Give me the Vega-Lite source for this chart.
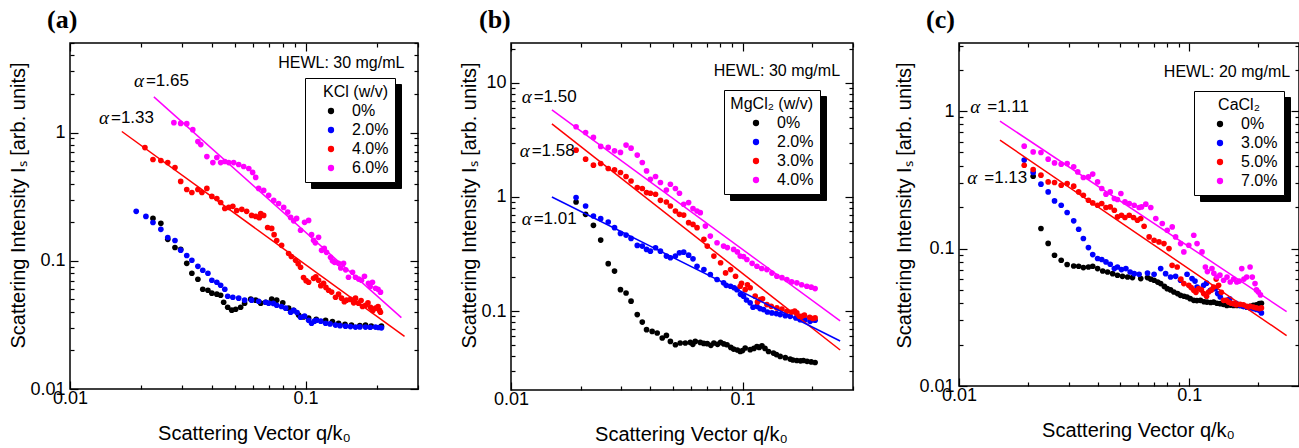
{
  "$schema": "https://vega.github.io/schema/vega-lite/v6.json",
  "background": "white",
  "padding": {"left": 8, "top": 6, "right": 0, "bottom": 0},
  "spacing": 39,
  "datasets": {
    "pts": [
      {"p":"a","s":"0%","q":0.0225,"I":0.214},{"p":"a","s":"0%","q":0.0243,"I":0.196},{"p":"a","s":"0%","q":0.026,"I":0.147},{"p":"a","s":"0%","q":0.0279,"I":0.127},{"p":"a","s":"0%","q":0.0295,"I":0.123},{"p":"a","s":"0%","q":0.0313,"I":0.0956},{"p":"a","s":"0%","q":0.0329,"I":0.0799},{"p":"a","s":"0%","q":0.0349,"I":0.0718},{"p":"a","s":"0%","q":0.0366,"I":0.06},{"p":"a","s":"0%","q":0.0385,"I":0.0589},{"p":"a","s":"0%","q":0.04,"I":0.0559},{"p":"a","s":"0%","q":0.042,"I":0.0549},{"p":"a","s":"0%","q":0.0436,"I":0.0539},{"p":"a","s":"0%","q":0.0449,"I":0.0475},{"p":"a","s":"0%","q":0.0467,"I":0.0434},{"p":"a","s":"0%","q":0.0486,"I":0.0412},{"p":"a","s":"0%","q":0.0505,"I":0.0419},{"p":"a","s":"0%","q":0.053,"I":0.0434},{"p":"a","s":"0%","q":0.0551,"I":0.0467},{"p":"a","s":"0%","q":0.0585,"I":0.0502},{"p":"a","s":"0%","q":0.0614,"I":0.0493},{"p":"a","s":"0%","q":0.0645,"I":0.0467},{"p":"a","s":"0%","q":0.0677,"I":0.0475},{"p":"a","s":"0%","q":0.0718,"I":0.0502},{"p":"a","s":"0%","q":0.0754,"I":0.0493},{"p":"a","s":"0%","q":0.08,"I":0.047},{"p":"a","s":"0%","q":0.0847,"I":0.0427},{"p":"a","s":"0%","q":0.089,"I":0.041},{"p":"a","s":"0%","q":0.0934,"I":0.0377},{"p":"a","s":"0%","q":0.098,"I":0.0365},{"p":"a","s":"0%","q":0.103,"I":0.0357},{"p":"a","s":"0%","q":0.111,"I":0.035},{"p":"a","s":"0%","q":0.1216,"I":0.0344},{"p":"a","s":"0%","q":0.13,"I":0.0335},{"p":"a","s":"0%","q":0.138,"I":0.0326},{"p":"a","s":"0%","q":0.147,"I":0.032},{"p":"a","s":"0%","q":0.1566,"I":0.0315},{"p":"a","s":"0%","q":0.17,"I":0.0312},{"p":"a","s":"0%","q":0.1796,"I":0.0315},{"p":"a","s":"0%","q":0.19,"I":0.031},{"p":"a","s":"0%","q":0.2099,"I":0.0309},
      {"p":"a","s":"2.0%","q":0.0191,"I":0.243},{"p":"a","s":"2.0%","q":0.021,"I":0.222},{"p":"a","s":"2.0%","q":0.0225,"I":0.199},{"p":"a","s":"2.0%","q":0.0243,"I":0.176},{"p":"a","s":"2.0%","q":0.026,"I":0.152},{"p":"a","s":"2.0%","q":0.0279,"I":0.144},{"p":"a","s":"2.0%","q":0.0295,"I":0.121},{"p":"a","s":"2.0%","q":0.0313,"I":0.11},{"p":"a","s":"2.0%","q":0.0329,"I":0.101},{"p":"a","s":"2.0%","q":0.0349,"I":0.0906},{"p":"a","s":"2.0%","q":0.0366,"I":0.0844},{"p":"a","s":"2.0%","q":0.0385,"I":0.0799},{"p":"a","s":"2.0%","q":0.04,"I":0.0705},{"p":"a","s":"2.0%","q":0.042,"I":0.068},{"p":"a","s":"2.0%","q":0.0436,"I":0.0645},{"p":"a","s":"2.0%","q":0.0454,"I":0.06},{"p":"a","s":"2.0%","q":0.0467,"I":0.0529},{"p":"a","s":"2.0%","q":0.0491,"I":0.052},{"p":"a","s":"2.0%","q":0.052,"I":0.0511},{"p":"a","s":"2.0%","q":0.0551,"I":0.0493},{"p":"a","s":"2.0%","q":0.059,"I":0.0493},{"p":"a","s":"2.0%","q":0.0632,"I":0.0484},{"p":"a","s":"2.0%","q":0.0677,"I":0.0475},{"p":"a","s":"2.0%","q":0.0697,"I":0.0467},{"p":"a","s":"2.0%","q":0.073,"I":0.0465},{"p":"a","s":"2.0%","q":0.0754,"I":0.045},{"p":"a","s":"2.0%","q":0.079,"I":0.044},{"p":"a","s":"2.0%","q":0.0823,"I":0.0427},{"p":"a","s":"2.0%","q":0.0864,"I":0.0397},{"p":"a","s":"2.0%","q":0.089,"I":0.041},{"p":"a","s":"2.0%","q":0.092,"I":0.0395},{"p":"a","s":"2.0%","q":0.0952,"I":0.0363},{"p":"a","s":"2.0%","q":0.099,"I":0.037},{"p":"a","s":"2.0%","q":0.103,"I":0.0344},{"p":"a","s":"2.0%","q":0.106,"I":0.0326},{"p":"a","s":"2.0%","q":0.109,"I":0.0338},{"p":"a","s":"2.0%","q":0.1113,"I":0.0344},{"p":"a","s":"2.0%","q":0.116,"I":0.0338},{"p":"a","s":"2.0%","q":0.1216,"I":0.0326},{"p":"a","s":"2.0%","q":0.127,"I":0.0322},{"p":"a","s":"2.0%","q":0.134,"I":0.0315},{"p":"a","s":"2.0%","q":0.14,"I":0.0312},{"p":"a","s":"2.0%","q":0.1477,"I":0.0309},{"p":"a","s":"2.0%","q":0.155,"I":0.0307},{"p":"a","s":"2.0%","q":0.1629,"I":0.0304},{"p":"a","s":"2.0%","q":0.17,"I":0.0305},{"p":"a","s":"2.0%","q":0.1796,"I":0.0304},{"p":"a","s":"2.0%","q":0.188,"I":0.0303},{"p":"a","s":"2.0%","q":0.1981,"I":0.0304},{"p":"a","s":"2.0%","q":0.204,"I":0.0302},{"p":"a","s":"2.0%","q":0.2099,"I":0.03},
      {"p":"a","s":"4.0%","q":0.0208,"I":0.764},{"p":"a","s":"4.0%","q":0.0225,"I":0.617},{"p":"a","s":"4.0%","q":0.0243,"I":0.606},{"p":"a","s":"4.0%","q":0.026,"I":0.584},{"p":"a","s":"4.0%","q":0.0279,"I":0.534},{"p":"a","s":"4.0%","q":0.0295,"I":0.416},{"p":"a","s":"4.0%","q":0.0313,"I":0.36},{"p":"a","s":"4.0%","q":0.0329,"I":0.341},{"p":"a","s":"4.0%","q":0.0349,"I":0.36},{"p":"a","s":"4.0%","q":0.0363,"I":0.341},{"p":"a","s":"4.0%","q":0.0381,"I":0.367},{"p":"a","s":"4.0%","q":0.04,"I":0.318},{"p":"a","s":"4.0%","q":0.042,"I":0.306},{"p":"a","s":"4.0%","q":0.0436,"I":0.285},{"p":"a","s":"4.0%","q":0.0454,"I":0.256},{"p":"a","s":"4.0%","q":0.0472,"I":0.261},{"p":"a","s":"4.0%","q":0.0491,"I":0.266},{"p":"a","s":"4.0%","q":0.051,"I":0.247},{"p":"a","s":"4.0%","q":0.0536,"I":0.252},{"p":"a","s":"4.0%","q":0.0562,"I":0.243},{"p":"a","s":"4.0%","q":0.059,"I":0.226},{"p":"a","s":"4.0%","q":0.0614,"I":0.222},{"p":"a","s":"4.0%","q":0.0636,"I":0.217},{"p":"a","s":"4.0%","q":0.0645,"I":0.234},{"p":"a","s":"4.0%","q":0.0664,"I":0.226},{"p":"a","s":"4.0%","q":0.069,"I":0.182},{"p":"a","s":"4.0%","q":0.0718,"I":0.179},{"p":"a","s":"4.0%","q":0.0735,"I":0.16},{"p":"a","s":"4.0%","q":0.0754,"I":0.144},{"p":"a","s":"4.0%","q":0.0791,"I":0.132},{"p":"a","s":"4.0%","q":0.0847,"I":0.114},{"p":"a","s":"4.0%","q":0.087,"I":0.108},{"p":"a","s":"4.0%","q":0.0907,"I":0.101},{"p":"a","s":"4.0%","q":0.093,"I":0.095},{"p":"a","s":"4.0%","q":0.0952,"I":0.089},{"p":"a","s":"4.0%","q":0.098,"I":0.074},{"p":"a","s":"4.0%","q":0.1005,"I":0.07},{"p":"a","s":"4.0%","q":0.103,"I":0.068},{"p":"a","s":"4.0%","q":0.1081,"I":0.073},{"p":"a","s":"4.0%","q":0.1105,"I":0.075},{"p":"a","s":"4.0%","q":0.1135,"I":0.0705},{"p":"a","s":"4.0%","q":0.116,"I":0.064},{"p":"a","s":"4.0%","q":0.1192,"I":0.0668},{"p":"a","s":"4.0%","q":0.122,"I":0.062},{"p":"a","s":"4.0%","q":0.1252,"I":0.0589},{"p":"a","s":"4.0%","q":0.129,"I":0.057},{"p":"a","s":"4.0%","q":0.134,"I":0.052},{"p":"a","s":"4.0%","q":0.138,"I":0.055},{"p":"a","s":"4.0%","q":0.1421,"I":0.0511},{"p":"a","s":"4.0%","q":0.146,"I":0.048},{"p":"a","s":"4.0%","q":0.1492,"I":0.0493},{"p":"a","s":"4.0%","q":0.1551,"I":0.05},{"p":"a","s":"4.0%","q":0.16,"I":0.047},{"p":"a","s":"4.0%","q":0.1629,"I":0.0511},{"p":"a","s":"4.0%","q":0.1677,"I":0.0467},{"p":"a","s":"4.0%","q":0.172,"I":0.049},{"p":"a","s":"4.0%","q":0.1744,"I":0.044},{"p":"a","s":"4.0%","q":0.1796,"I":0.045},{"p":"a","s":"4.0%","q":0.184,"I":0.047},{"p":"a","s":"4.0%","q":0.1886,"I":0.0434},{"p":"a","s":"4.0%","q":0.193,"I":0.041},{"p":"a","s":"4.0%","q":0.1981,"I":0.0427},{"p":"a","s":"4.0%","q":0.203,"I":0.044},{"p":"a","s":"4.0%","q":0.206,"I":0.041},{"p":"a","s":"4.0%","q":0.2079,"I":0.0397},
      {"p":"a","s":"6.0%","q":0.0276,"I":1.196},{"p":"a","s":"6.0%","q":0.0295,"I":1.18},{"p":"a","s":"6.0%","q":0.0313,"I":1.175},{"p":"a","s":"6.0%","q":0.0332,"I":1.055},{"p":"a","s":"6.0%","q":0.0349,"I":0.851},{"p":"a","s":"6.0%","q":0.0359,"I":0.806},{"p":"a","s":"6.0%","q":0.0381,"I":0.65},{"p":"a","s":"6.0%","q":0.0404,"I":0.584},{"p":"a","s":"6.0%","q":0.042,"I":0.639},{"p":"a","s":"6.0%","q":0.0436,"I":0.584},{"p":"a","s":"6.0%","q":0.0454,"I":0.595},{"p":"a","s":"6.0%","q":0.0472,"I":0.584},{"p":"a","s":"6.0%","q":0.0495,"I":0.584},{"p":"a","s":"6.0%","q":0.052,"I":0.564},{"p":"a","s":"6.0%","q":0.0546,"I":0.544},{"p":"a","s":"6.0%","q":0.0574,"I":0.525},{"p":"a","s":"6.0%","q":0.0596,"I":0.489},{"p":"a","s":"6.0%","q":0.0614,"I":0.447},{"p":"a","s":"6.0%","q":0.0632,"I":0.367},{"p":"a","s":"6.0%","q":0.0664,"I":0.354},{"p":"a","s":"6.0%","q":0.0697,"I":0.324},{"p":"a","s":"6.0%","q":0.0732,"I":0.296},{"p":"a","s":"6.0%","q":0.0768,"I":0.28},{"p":"a","s":"6.0%","q":0.0807,"I":0.261},{"p":"a","s":"6.0%","q":0.084,"I":0.24},{"p":"a","s":"6.0%","q":0.0864,"I":0.218},{"p":"a","s":"6.0%","q":0.089,"I":0.205},{"p":"a","s":"6.0%","q":0.0916,"I":0.214},{"p":"a","s":"6.0%","q":0.0952,"I":0.173},{"p":"a","s":"6.0%","q":0.099,"I":0.1995},{"p":"a","s":"6.0%","q":0.103,"I":0.2066},{"p":"a","s":"6.0%","q":0.106,"I":0.16},{"p":"a","s":"6.0%","q":0.1081,"I":0.1444},{"p":"a","s":"6.0%","q":0.11,"I":0.138},{"p":"a","s":"6.0%","q":0.1135,"I":0.1524},{"p":"a","s":"6.0%","q":0.1169,"I":0.1207},{"p":"a","s":"6.0%","q":0.12,"I":0.125},{"p":"a","s":"6.0%","q":0.1227,"I":0.1164},{"p":"a","s":"6.0%","q":0.1276,"I":0.1064},{"p":"a","s":"6.0%","q":0.13,"I":0.1},{"p":"a","s":"6.0%","q":0.1327,"I":0.0973},{"p":"a","s":"6.0%","q":0.138,"I":0.0956},{"p":"a","s":"6.0%","q":0.141,"I":0.088},{"p":"a","s":"6.0%","q":0.1449,"I":0.0956},{"p":"a","s":"6.0%","q":0.148,"I":0.085},{"p":"a","s":"6.0%","q":0.1521,"I":0.0744},{"p":"a","s":"6.0%","q":0.1582,"I":0.0814},{"p":"a","s":"6.0%","q":0.1629,"I":0.0744},{"p":"a","s":"6.0%","q":0.168,"I":0.072},{"p":"a","s":"6.0%","q":0.1727,"I":0.0705},{"p":"a","s":"6.0%","q":0.1778,"I":0.0758},{"p":"a","s":"6.0%","q":0.1849,"I":0.0668},{"p":"a","s":"6.0%","q":0.188,"I":0.063},{"p":"a","s":"6.0%","q":0.1922,"I":0.068},{"p":"a","s":"6.0%","q":0.1981,"I":0.0611},{"p":"a","s":"6.0%","q":0.203,"I":0.06},{"p":"a","s":"6.0%","q":0.2079,"I":0.0569},
      {"p":"b","s":"0%","q":0.0191,"I":0.904},{"p":"b","s":"0%","q":0.021,"I":0.704},{"p":"b","s":"0%","q":0.0227,"I":0.564},{"p":"b","s":"0%","q":0.0244,"I":0.419},{"p":"b","s":"0%","q":0.0263,"I":0.26},{"p":"b","s":"0%","q":0.028,"I":0.224},{"p":"b","s":"0%","q":0.0297,"I":0.154},{"p":"b","s":"0%","q":0.0314,"I":0.144},{"p":"b","s":"0%","q":0.033,"I":0.122},{"p":"b","s":"0%","q":0.0351,"I":0.093},{"p":"b","s":"0%","q":0.0369,"I":0.08},{"p":"b","s":"0%","q":0.0385,"I":0.0686},{"p":"b","s":"0%","q":0.0407,"I":0.0663},{"p":"b","s":"0%","q":0.0428,"I":0.0642},{"p":"b","s":"0%","q":0.045,"I":0.058},{"p":"b","s":"0%","q":0.0469,"I":0.0611},{"p":"b","s":"0%","q":0.0488,"I":0.0541},{"p":"b","s":"0%","q":0.0513,"I":0.0506},{"p":"b","s":"0%","q":0.0538,"I":0.0524},{"p":"b","s":"0%","q":0.0566,"I":0.0524},{"p":"b","s":"0%","q":0.0595,"I":0.0531},{"p":"b","s":"0%","q":0.061,"I":0.051},{"p":"b","s":"0%","q":0.0625,"I":0.0541},{"p":"b","s":"0%","q":0.0657,"I":0.0531},{"p":"b","s":"0%","q":0.068,"I":0.052},{"p":"b","s":"0%","q":0.0704,"I":0.0517},{"p":"b","s":"0%","q":0.073,"I":0.05},{"p":"b","s":"0%","q":0.0752,"I":0.0524},{"p":"b","s":"0%","q":0.078,"I":0.051},{"p":"b","s":"0%","q":0.0804,"I":0.0531},{"p":"b","s":"0%","q":0.083,"I":0.0515},{"p":"b","s":"0%","q":0.0857,"I":0.0506},{"p":"b","s":"0%","q":0.089,"I":0.048},{"p":"b","s":"0%","q":0.0915,"I":0.0464},{"p":"b","s":"0%","q":0.095,"I":0.0455},{"p":"b","s":"0%","q":0.0977,"I":0.0442},{"p":"b","s":"0%","q":0.1,"I":0.045},{"p":"b","s":"0%","q":0.1027,"I":0.0474},{"p":"b","s":"0%","q":0.1079,"I":0.0458},{"p":"b","s":"0%","q":0.112,"I":0.047},{"p":"b","s":"0%","q":0.1154,"I":0.0489},{"p":"b","s":"0%","q":0.118,"I":0.048},{"p":"b","s":"0%","q":0.1213,"I":0.0496},{"p":"b","s":"0%","q":0.125,"I":0.047},{"p":"b","s":"0%","q":0.1295,"I":0.0442},{"p":"b","s":"0%","q":0.136,"I":0.0428},{"p":"b","s":"0%","q":0.14,"I":0.0415},{"p":"b","s":"0%","q":0.1454,"I":0.04},{"p":"b","s":"0%","q":0.153,"I":0.039},{"p":"b","s":"0%","q":0.1606,"I":0.0379},{"p":"b","s":"0%","q":0.165,"I":0.0372},{"p":"b","s":"0%","q":0.1716,"I":0.0368},{"p":"b","s":"0%","q":0.178,"I":0.0366},{"p":"b","s":"0%","q":0.1832,"I":0.0368},{"p":"b","s":"0%","q":0.19,"I":0.0362},{"p":"b","s":"0%","q":0.198,"I":0.0358},{"p":"b","s":"0%","q":0.2058,"I":0.0354},
      {"p":"b","s":"2.0%","q":0.0191,"I":0.988},{"p":"b","s":"2.0%","q":0.021,"I":0.833},{"p":"b","s":"2.0%","q":0.0227,"I":0.681},{"p":"b","s":"2.0%","q":0.0244,"I":0.646},{"p":"b","s":"2.0%","q":0.0263,"I":0.603},{"p":"b","s":"2.0%","q":0.028,"I":0.538},{"p":"b","s":"2.0%","q":0.0297,"I":0.479},{"p":"b","s":"2.0%","q":0.0314,"I":0.463},{"p":"b","s":"2.0%","q":0.033,"I":0.433},{"p":"b","s":"2.0%","q":0.0351,"I":0.376},{"p":"b","s":"2.0%","q":0.0369,"I":0.371},{"p":"b","s":"2.0%","q":0.0385,"I":0.347},{"p":"b","s":"2.0%","q":0.04,"I":0.335},{"p":"b","s":"2.0%","q":0.0421,"I":0.359},{"p":"b","s":"2.0%","q":0.0442,"I":0.335},{"p":"b","s":"2.0%","q":0.0469,"I":0.303},{"p":"b","s":"2.0%","q":0.0488,"I":0.293},{"p":"b","s":"2.0%","q":0.0513,"I":0.303},{"p":"b","s":"2.0%","q":0.0534,"I":0.324},{"p":"b","s":"2.0%","q":0.0557,"I":0.328},{"p":"b","s":"2.0%","q":0.0585,"I":0.309},{"p":"b","s":"2.0%","q":0.0611,"I":0.287},{"p":"b","s":"2.0%","q":0.0636,"I":0.247},{"p":"b","s":"2.0%","q":0.0681,"I":0.231},{"p":"b","s":"2.0%","q":0.0726,"I":0.209},{"p":"b","s":"2.0%","q":0.0776,"I":0.189},{"p":"b","s":"2.0%","q":0.0828,"I":0.177},{"p":"b","s":"2.0%","q":0.085,"I":0.168},{"p":"b","s":"2.0%","q":0.0888,"I":0.165},{"p":"b","s":"2.0%","q":0.092,"I":0.16},{"p":"b","s":"2.0%","q":0.0946,"I":0.154},{"p":"b","s":"2.0%","q":0.098,"I":0.14},{"p":"b","s":"2.0%","q":0.101,"I":0.135},{"p":"b","s":"2.0%","q":0.104,"I":0.125},{"p":"b","s":"2.0%","q":0.1079,"I":0.118},{"p":"b","s":"2.0%","q":0.111,"I":0.108},{"p":"b","s":"2.0%","q":0.1154,"I":0.11},{"p":"b","s":"2.0%","q":0.119,"I":0.105},{"p":"b","s":"2.0%","q":0.1232,"I":0.103},{"p":"b","s":"2.0%","q":0.128,"I":0.098},{"p":"b","s":"2.0%","q":0.1339,"I":0.0962},{"p":"b","s":"2.0%","q":0.14,"I":0.095},{"p":"b","s":"2.0%","q":0.1454,"I":0.093},{"p":"b","s":"2.0%","q":0.153,"I":0.091},{"p":"b","s":"2.0%","q":0.1606,"I":0.0898},{"p":"b","s":"2.0%","q":0.17,"I":0.087},{"p":"b","s":"2.0%","q":0.1774,"I":0.084},{"p":"b","s":"2.0%","q":0.186,"I":0.084},{"p":"b","s":"2.0%","q":0.1958,"I":0.0812},{"p":"b","s":"2.0%","q":0.2,"I":0.084},{"p":"b","s":"2.0%","q":0.2058,"I":0.083},
      {"p":"b","s":"3.0%","q":0.0191,"I":2.575},{"p":"b","s":"3.0%","q":0.021,"I":2.146},{"p":"b","s":"3.0%","q":0.0227,"I":1.9},{"p":"b","s":"3.0%","q":0.0244,"I":1.967},{"p":"b","s":"3.0%","q":0.0263,"I":1.777},{"p":"b","s":"3.0%","q":0.028,"I":1.728},{"p":"b","s":"3.0%","q":0.0297,"I":1.639},{"p":"b","s":"3.0%","q":0.0314,"I":1.512},{"p":"b","s":"3.0%","q":0.033,"I":1.382},{"p":"b","s":"3.0%","q":0.0351,"I":1.21},{"p":"b","s":"3.0%","q":0.0369,"I":1.186},{"p":"b","s":"3.0%","q":0.0385,"I":1.093},{"p":"b","s":"3.0%","q":0.04,"I":1.078},{"p":"b","s":"3.0%","q":0.0421,"I":1.056},{"p":"b","s":"3.0%","q":0.0442,"I":0.935},{"p":"b","s":"3.0%","q":0.0469,"I":0.904},{"p":"b","s":"3.0%","q":0.0488,"I":0.833},{"p":"b","s":"3.0%","q":0.0513,"I":0.753},{"p":"b","s":"3.0%","q":0.0534,"I":0.704},{"p":"b","s":"3.0%","q":0.0557,"I":0.694},{"p":"b","s":"3.0%","q":0.0585,"I":0.595},{"p":"b","s":"3.0%","q":0.0611,"I":0.575},{"p":"b","s":"3.0%","q":0.0636,"I":0.538},{"p":"b","s":"3.0%","q":0.0681,"I":0.425},{"p":"b","s":"3.0%","q":0.0704,"I":0.371},{"p":"b","s":"3.0%","q":0.0752,"I":0.303},{"p":"b","s":"3.0%","q":0.0804,"I":0.265},{"p":"b","s":"3.0%","q":0.0845,"I":0.216},{"p":"b","s":"3.0%","q":0.0888,"I":0.231},{"p":"b","s":"3.0%","q":0.0933,"I":0.202},{"p":"b","s":"3.0%","q":0.0977,"I":0.165},{"p":"b","s":"3.0%","q":0.099,"I":0.175},{"p":"b","s":"3.0%","q":0.1027,"I":0.154},{"p":"b","s":"3.0%","q":0.105,"I":0.17},{"p":"b","s":"3.0%","q":0.1079,"I":0.16},{"p":"b","s":"3.0%","q":0.1134,"I":0.135},{"p":"b","s":"3.0%","q":0.116,"I":0.12},{"p":"b","s":"3.0%","q":0.1192,"I":0.126},{"p":"b","s":"3.0%","q":0.122,"I":0.128},{"p":"b","s":"3.0%","q":0.1274,"I":0.1138},{"p":"b","s":"3.0%","q":0.133,"I":0.11},{"p":"b","s":"3.0%","q":0.1407,"I":0.1065},{"p":"b","s":"3.0%","q":0.148,"I":0.104},{"p":"b","s":"3.0%","q":0.1554,"I":0.0994},{"p":"b","s":"3.0%","q":0.163,"I":0.098},{"p":"b","s":"3.0%","q":0.168,"I":0.1},{"p":"b","s":"3.0%","q":0.1716,"I":0.0962},{"p":"b","s":"3.0%","q":0.176,"I":0.09},{"p":"b","s":"3.0%","q":0.1803,"I":0.0898},{"p":"b","s":"3.0%","q":0.185,"I":0.092},{"p":"b","s":"3.0%","q":0.195,"I":0.088},{"p":"b","s":"3.0%","q":0.201,"I":0.086},{"p":"b","s":"3.0%","q":0.2058,"I":0.087},
      {"p":"b","s":"4.0%","q":0.0191,"I":4.13},{"p":"b","s":"4.0%","q":0.021,"I":3.68},{"p":"b","s":"4.0%","q":0.0227,"I":3.33},{"p":"b","s":"4.0%","q":0.0244,"I":2.775},{"p":"b","s":"4.0%","q":0.0263,"I":2.72},{"p":"b","s":"4.0%","q":0.028,"I":2.54},{"p":"b","s":"4.0%","q":0.0297,"I":2.46},{"p":"b","s":"4.0%","q":0.0314,"I":2.85},{"p":"b","s":"4.0%","q":0.033,"I":2.68},{"p":"b","s":"4.0%","q":0.0351,"I":2.33},{"p":"b","s":"4.0%","q":0.0369,"I":2.007},{"p":"b","s":"4.0%","q":0.0385,"I":1.693},{"p":"b","s":"4.0%","q":0.04,"I":1.431},{"p":"b","s":"4.0%","q":0.0421,"I":1.512},{"p":"b","s":"4.0%","q":0.0442,"I":1.339},{"p":"b","s":"4.0%","q":0.0469,"I":1.152},{"p":"b","s":"4.0%","q":0.0488,"I":1.293},{"p":"b","s":"4.0%","q":0.0513,"I":1.186},{"p":"b","s":"4.0%","q":0.0534,"I":1.078},{"p":"b","s":"4.0%","q":0.0557,"I":0.863},{"p":"b","s":"4.0%","q":0.0585,"I":0.893},{"p":"b","s":"4.0%","q":0.0611,"I":0.791},{"p":"b","s":"4.0%","q":0.0636,"I":0.753},{"p":"b","s":"4.0%","q":0.0657,"I":0.729},{"p":"b","s":"4.0%","q":0.0691,"I":0.556},{"p":"b","s":"4.0%","q":0.0726,"I":0.454},{"p":"b","s":"4.0%","q":0.0776,"I":0.397},{"p":"b","s":"4.0%","q":0.0828,"I":0.371},{"p":"b","s":"4.0%","q":0.086,"I":0.36},{"p":"b","s":"4.0%","q":0.0915,"I":0.347},{"p":"b","s":"4.0%","q":0.095,"I":0.33},{"p":"b","s":"4.0%","q":0.0977,"I":0.303},{"p":"b","s":"4.0%","q":0.101,"I":0.3},{"p":"b","s":"4.0%","q":0.1044,"I":0.283},{"p":"b","s":"4.0%","q":0.11,"I":0.262},{"p":"b","s":"4.0%","q":0.1154,"I":0.247},{"p":"b","s":"4.0%","q":0.121,"I":0.236},{"p":"b","s":"4.0%","q":0.1274,"I":0.231},{"p":"b","s":"4.0%","q":0.134,"I":0.215},{"p":"b","s":"4.0%","q":0.1407,"I":0.202},{"p":"b","s":"4.0%","q":0.148,"I":0.196},{"p":"b","s":"4.0%","q":0.1554,"I":0.189},{"p":"b","s":"4.0%","q":0.163,"I":0.18},{"p":"b","s":"4.0%","q":0.1716,"I":0.1767},{"p":"b","s":"4.0%","q":0.18,"I":0.17},{"p":"b","s":"4.0%","q":0.1895,"I":0.165},{"p":"b","s":"4.0%","q":0.198,"I":0.162},{"p":"b","s":"4.0%","q":0.2058,"I":0.1574},
      {"p":"c","s":"0%","q":0.021,"I":0.336},{"p":"c","s":"0%","q":0.0227,"I":0.14},{"p":"c","s":"0%","q":0.0244,"I":0.109},{"p":"c","s":"0%","q":0.026,"I":0.0894},{"p":"c","s":"0%","q":0.0278,"I":0.0822},{"p":"c","s":"0%","q":0.0295,"I":0.0765},{"p":"c","s":"0%","q":0.0315,"I":0.0747},{"p":"c","s":"0%","q":0.0331,"I":0.0743},{"p":"c","s":"0%","q":0.0347,"I":0.0727},{"p":"c","s":"0%","q":0.0365,"I":0.0734},{"p":"c","s":"0%","q":0.0381,"I":0.0743},{"p":"c","s":"0%","q":0.04,"I":0.0715},{"p":"c","s":"0%","q":0.0421,"I":0.0687},{"p":"c","s":"0%","q":0.0442,"I":0.0675},{"p":"c","s":"0%","q":0.0465,"I":0.0657},{"p":"c","s":"0%","q":0.0488,"I":0.0639},{"p":"c","s":"0%","q":0.0513,"I":0.0628},{"p":"c","s":"0%","q":0.054,"I":0.0621},{"p":"c","s":"0%","q":0.0567,"I":0.0615},{"p":"c","s":"0%","q":0.0616,"I":0.0605},{"p":"c","s":"0%","q":0.0659,"I":0.0615},{"p":"c","s":"0%","q":0.068,"I":0.06},{"p":"c","s":"0%","q":0.0704,"I":0.0588},{"p":"c","s":"0%","q":0.073,"I":0.057},{"p":"c","s":"0%","q":0.0752,"I":0.0556},{"p":"c","s":"0%","q":0.078,"I":0.053},{"p":"c","s":"0%","q":0.0803,"I":0.0511},{"p":"c","s":"0%","q":0.083,"I":0.05},{"p":"c","s":"0%","q":0.0858,"I":0.0483},{"p":"c","s":"0%","q":0.089,"I":0.047},{"p":"c","s":"0%","q":0.0917,"I":0.0457},{"p":"c","s":"0%","q":0.095,"I":0.045},{"p":"c","s":"0%","q":0.0979,"I":0.0444},{"p":"c","s":"0%","q":0.101,"I":0.0432},{"p":"c","s":"0%","q":0.1047,"I":0.042},{"p":"c","s":"0%","q":0.108,"I":0.0418},{"p":"c","s":"0%","q":0.1119,"I":0.042},{"p":"c","s":"0%","q":0.116,"I":0.041},{"p":"c","s":"0%","q":0.1195,"I":0.0408},{"p":"c","s":"0%","q":0.124,"I":0.0405},{"p":"c","s":"0%","q":0.1277,"I":0.0408},{"p":"c","s":"0%","q":0.132,"I":0.04},{"p":"c","s":"0%","q":0.1365,"I":0.0397},{"p":"c","s":"0%","q":0.141,"I":0.0393},{"p":"c","s":"0%","q":0.1458,"I":0.0386},{"p":"c","s":"0%","q":0.151,"I":0.0388},{"p":"c","s":"0%","q":0.1558,"I":0.0386},{"p":"c","s":"0%","q":0.161,"I":0.0386},{"p":"c","s":"0%","q":0.1665,"I":0.0386},{"p":"c","s":"0%","q":0.172,"I":0.038},{"p":"c","s":"0%","q":0.1778,"I":0.0375},{"p":"c","s":"0%","q":0.184,"I":0.038},{"p":"c","s":"0%","q":0.19,"I":0.0386},{"p":"c","s":"0%","q":0.196,"I":0.039},{"p":"c","s":"0%","q":0.2017,"I":0.0397},{"p":"c","s":"0%","q":0.206,"I":0.04},
      {"p":"c","s":"3.0%","q":0.0192,"I":0.44},{"p":"c","s":"3.0%","q":0.021,"I":0.358},{"p":"c","s":"3.0%","q":0.0227,"I":0.294},{"p":"c","s":"3.0%","q":0.0244,"I":0.2584},{"p":"c","s":"3.0%","q":0.026,"I":0.2222},{"p":"c","s":"3.0%","q":0.0278,"I":0.2067},{"p":"c","s":"3.0%","q":0.0295,"I":0.183},{"p":"c","s":"3.0%","q":0.0315,"I":0.159},{"p":"c","s":"3.0%","q":0.0331,"I":0.1382},{"p":"c","s":"3.0%","q":0.0347,"I":0.1183},{"p":"c","s":"3.0%","q":0.0365,"I":0.1017},{"p":"c","s":"3.0%","q":0.0381,"I":0.0904},{"p":"c","s":"3.0%","q":0.04,"I":0.0846},{"p":"c","s":"3.0%","q":0.0417,"I":0.0832},{"p":"c","s":"3.0%","q":0.0435,"I":0.0799},{"p":"c","s":"3.0%","q":0.0454,"I":0.0769},{"p":"c","s":"3.0%","q":0.0473,"I":0.0715},{"p":"c","s":"3.0%","q":0.0488,"I":0.0734},{"p":"c","s":"3.0%","q":0.0508,"I":0.0703},{"p":"c","s":"3.0%","q":0.0531,"I":0.0715},{"p":"c","s":"3.0%","q":0.0554,"I":0.0675},{"p":"c","s":"3.0%","q":0.0577,"I":0.0657},{"p":"c","s":"3.0%","q":0.0606,"I":0.065},{"p":"c","s":"3.0%","q":0.0659,"I":0.0664},{"p":"c","s":"3.0%","q":0.0704,"I":0.065},{"p":"c","s":"3.0%","q":0.0752,"I":0.0715},{"p":"c","s":"3.0%","q":0.079,"I":0.0657},{"p":"c","s":"3.0%","q":0.083,"I":0.0621},{"p":"c","s":"3.0%","q":0.0873,"I":0.0628},{"p":"c","s":"3.0%","q":0.0917,"I":0.0588},{"p":"c","s":"3.0%","q":0.0979,"I":0.065},{"p":"c","s":"3.0%","q":0.1029,"I":0.0605},{"p":"c","s":"3.0%","q":0.106,"I":0.058},{"p":"c","s":"3.0%","q":0.1082,"I":0.0525},{"p":"c","s":"3.0%","q":0.1156,"I":0.054},{"p":"c","s":"3.0%","q":0.119,"I":0.056},{"p":"c","s":"3.0%","q":0.1236,"I":0.0497},{"p":"c","s":"3.0%","q":0.1299,"I":0.0511},{"p":"c","s":"3.0%","q":0.133,"I":0.047},{"p":"c","s":"3.0%","q":0.1365,"I":0.0444},{"p":"c","s":"3.0%","q":0.1458,"I":0.042},{"p":"c","s":"3.0%","q":0.15,"I":0.043},{"p":"c","s":"3.0%","q":0.1558,"I":0.0397},{"p":"c","s":"3.0%","q":0.16,"I":0.04},{"p":"c","s":"3.0%","q":0.1665,"I":0.0386},{"p":"c","s":"3.0%","q":0.172,"I":0.038},{"p":"c","s":"3.0%","q":0.1778,"I":0.0375},{"p":"c","s":"3.0%","q":0.184,"I":0.037},{"p":"c","s":"3.0%","q":0.19,"I":0.0366},{"p":"c","s":"3.0%","q":0.196,"I":0.036},{"p":"c","s":"3.0%","q":0.2017,"I":0.0355},{"p":"c","s":"3.0%","q":0.206,"I":0.034},
      {"p":"c","s":"5.0%","q":0.0192,"I":0.404},{"p":"c","s":"5.0%","q":0.021,"I":0.376},{"p":"c","s":"5.0%","q":0.0227,"I":0.342},{"p":"c","s":"5.0%","q":0.0244,"I":0.3055},{"p":"c","s":"5.0%","q":0.026,"I":0.3025},{"p":"c","s":"5.0%","q":0.0278,"I":0.289},{"p":"c","s":"5.0%","q":0.0295,"I":0.2975},{"p":"c","s":"5.0%","q":0.0315,"I":0.2843},{"p":"c","s":"5.0%","q":0.0331,"I":0.2584},{"p":"c","s":"5.0%","q":0.0347,"I":0.2444},{"p":"c","s":"5.0%","q":0.0365,"I":0.2247},{"p":"c","s":"5.0%","q":0.0381,"I":0.2148},{"p":"c","s":"5.0%","q":0.04,"I":0.2067},{"p":"c","s":"5.0%","q":0.0417,"I":0.2128},{"p":"c","s":"5.0%","q":0.0435,"I":0.1988},{"p":"c","s":"5.0%","q":0.0454,"I":0.2009},{"p":"c","s":"5.0%","q":0.0473,"I":0.19},{"p":"c","s":"5.0%","q":0.0488,"I":0.17},{"p":"c","s":"5.0%","q":0.0508,"I":0.1748},{"p":"c","s":"5.0%","q":0.0526,"I":0.1682},{"p":"c","s":"5.0%","q":0.0549,"I":0.1748},{"p":"c","s":"5.0%","q":0.0573,"I":0.1682},{"p":"c","s":"5.0%","q":0.0596,"I":0.1607},{"p":"c","s":"5.0%","q":0.0616,"I":0.1654},{"p":"c","s":"5.0%","q":0.0637,"I":0.1454},{"p":"c","s":"5.0%","q":0.067,"I":0.1215},{"p":"c","s":"5.0%","q":0.0704,"I":0.1149},{"p":"c","s":"5.0%","q":0.0739,"I":0.1117},{"p":"c","s":"5.0%","q":0.0777,"I":0.1087},{"p":"c","s":"5.0%","q":0.0817,"I":0.1},{"p":"c","s":"5.0%","q":0.0843,"I":0.0755},{"p":"c","s":"5.0%","q":0.0887,"I":0.0734},{"p":"c","s":"5.0%","q":0.092,"I":0.06},{"p":"c","s":"5.0%","q":0.0948,"I":0.0556},{"p":"c","s":"5.0%","q":0.0996,"I":0.054},{"p":"c","s":"5.0%","q":0.102,"I":0.052},{"p":"c","s":"5.0%","q":0.1047,"I":0.0497},{"p":"c","s":"5.0%","q":0.107,"I":0.048},{"p":"c","s":"5.0%","q":0.11,"I":0.0511},{"p":"c","s":"5.0%","q":0.113,"I":0.05},{"p":"c","s":"5.0%","q":0.1156,"I":0.047},{"p":"c","s":"5.0%","q":0.119,"I":0.045},{"p":"c","s":"5.0%","q":0.1215,"I":0.0483},{"p":"c","s":"5.0%","q":0.125,"I":0.05},{"p":"c","s":"5.0%","q":0.1277,"I":0.0525},{"p":"c","s":"5.0%","q":0.131,"I":0.06},{"p":"c","s":"5.0%","q":0.1342,"I":0.054},{"p":"c","s":"5.0%","q":0.138,"I":0.048},{"p":"c","s":"5.0%","q":0.1411,"I":0.042},{"p":"c","s":"5.0%","q":0.145,"I":0.042},{"p":"c","s":"5.0%","q":0.1483,"I":0.0408},{"p":"c","s":"5.0%","q":0.152,"I":0.04},{"p":"c","s":"5.0%","q":0.1558,"I":0.0397},{"p":"c","s":"5.0%","q":0.16,"I":0.039},{"p":"c","s":"5.0%","q":0.1665,"I":0.0393},{"p":"c","s":"5.0%","q":0.172,"I":0.039},{"p":"c","s":"5.0%","q":0.1778,"I":0.038},{"p":"c","s":"5.0%","q":0.184,"I":0.038},{"p":"c","s":"5.0%","q":0.19,"I":0.0375},{"p":"c","s":"5.0%","q":0.196,"I":0.037},{"p":"c","s":"5.0%","q":0.2017,"I":0.0366},{"p":"c","s":"5.0%","q":0.206,"I":0.037},
      {"p":"c","s":"7.0%","q":0.0192,"I":0.556},{"p":"c","s":"7.0%","q":0.021,"I":0.505},{"p":"c","s":"7.0%","q":0.0227,"I":0.5},{"p":"c","s":"7.0%","q":0.0244,"I":0.447},{"p":"c","s":"7.0%","q":0.026,"I":0.42},{"p":"c","s":"7.0%","q":0.0278,"I":0.411},{"p":"c","s":"7.0%","q":0.0295,"I":0.416},{"p":"c","s":"7.0%","q":0.0315,"I":0.393},{"p":"c","s":"7.0%","q":0.0328,"I":0.361},{"p":"c","s":"7.0%","q":0.0347,"I":0.329},{"p":"c","s":"7.0%","q":0.0365,"I":0.332},{"p":"c","s":"7.0%","q":0.0381,"I":0.348},{"p":"c","s":"7.0%","q":0.04,"I":0.3055},{"p":"c","s":"7.0%","q":0.0417,"I":0.2735},{"p":"c","s":"7.0%","q":0.0435,"I":0.2486},{"p":"c","s":"7.0%","q":0.0454,"I":0.2584},{"p":"c","s":"7.0%","q":0.0473,"I":0.2312},{"p":"c","s":"7.0%","q":0.0488,"I":0.2274},{"p":"c","s":"7.0%","q":0.0505,"I":0.2516},{"p":"c","s":"7.0%","q":0.0526,"I":0.2185},{"p":"c","s":"7.0%","q":0.0549,"I":0.2128},{"p":"c","s":"7.0%","q":0.0577,"I":0.2067},{"p":"c","s":"7.0%","q":0.0606,"I":0.1988},{"p":"c","s":"7.0%","q":0.0621,"I":0.2009},{"p":"c","s":"7.0%","q":0.0648,"I":0.2103},{"p":"c","s":"7.0%","q":0.0681,"I":0.1988},{"p":"c","s":"7.0%","q":0.0716,"I":0.1654},{"p":"c","s":"7.0%","q":0.0764,"I":0.1521},{"p":"c","s":"7.0%","q":0.0803,"I":0.1359},{"p":"c","s":"7.0%","q":0.0844,"I":0.1437},{"p":"c","s":"7.0%","q":0.0873,"I":0.1215},{"p":"c","s":"7.0%","q":0.0918,"I":0.1087},{"p":"c","s":"7.0%","q":0.0948,"I":0.0945},{"p":"c","s":"7.0%","q":0.0996,"I":0.1057},{"p":"c","s":"7.0%","q":0.1047,"I":0.125},{"p":"c","s":"7.0%","q":0.1082,"I":0.1087},{"p":"c","s":"7.0%","q":0.1137,"I":0.0945},{"p":"c","s":"7.0%","q":0.1176,"I":0.0734},{"p":"c","s":"7.0%","q":0.12,"I":0.068},{"p":"c","s":"7.0%","q":0.1256,"I":0.0715},{"p":"c","s":"7.0%","q":0.128,"I":0.066},{"p":"c","s":"7.0%","q":0.132,"I":0.0621},{"p":"c","s":"7.0%","q":0.136,"I":0.064},{"p":"c","s":"7.0%","q":0.1411,"I":0.0588},{"p":"c","s":"7.0%","q":0.146,"I":0.062},{"p":"c","s":"7.0%","q":0.1508,"I":0.0571},{"p":"c","s":"7.0%","q":0.156,"I":0.06},{"p":"c","s":"7.0%","q":0.161,"I":0.0571},{"p":"c","s":"7.0%","q":0.165,"I":0.058},{"p":"c","s":"7.0%","q":0.1692,"I":0.0715},{"p":"c","s":"7.0%","q":0.173,"I":0.06},{"p":"c","s":"7.0%","q":0.1778,"I":0.0621},{"p":"c","s":"7.0%","q":0.1839,"I":0.0734},{"p":"c","s":"7.0%","q":0.188,"I":0.062},{"p":"c","s":"7.0%","q":0.1932,"I":0.0556},{"p":"c","s":"7.0%","q":0.196,"I":0.05},{"p":"c","s":"7.0%","q":0.1998,"I":0.0483},{"p":"c","s":"7.0%","q":0.204,"I":0.046}
    ],
    "fit": [
      {"p":"a","s":"6.0%","q":0.0227,"I":1.9},{"p":"a","s":"6.0%","q":0.255,"I":0.036},
      {"p":"a","s":"4.0%","q":0.0166,"I":1.02},{"p":"a","s":"4.0%","q":0.263,"I":0.0257},
      {"p":"b","s":"4.0%","q":0.01502,"I":5.8},{"p":"b","s":"4.0%","q":0.264,"I":0.082},
      {"p":"b","s":"3.0%","q":0.01502,"I":4.37},{"p":"b","s":"3.0%","q":0.264,"I":0.0455},
      {"p":"b","s":"2.0%","q":0.01502,"I":1.0},{"p":"b","s":"2.0%","q":0.264,"I":0.0546},
      {"p":"c","s":"7.0%","q":0.01507,"I":0.846},{"p":"c","s":"7.0%","q":0.265,"I":0.0348},
      {"p":"c","s":"5.0%","q":0.01507,"I":0.615},{"p":"c","s":"5.0%","q":0.265,"I":0.0233}
    ]
  },
  "hconcat": [
    {
      "width": 348, "height": 346,
      "title": {"text": "(a)", "anchor": "start", "frame": "group", "dx": -23, "offset": 1},
      "layer": [
        {
          "data": {"name": "pts"},
          "transform": [{"filter": "datum.p == 'a'"}],
          "mark": {"type": "point", "filled": true, "size": 32, "opacity": 1},
          "encoding": {
            "x": {"field": "q", "type": "quantitative", "scale": {"type": "log", "domain": [0.01, 0.3], "nice": false},
              "axis": {"orient": "bottom", "values": [0.01,0.02,0.03,0.04,0.05,0.06,0.07,0.08,0.09,0.1,0.2,0.3], "format": "~g",
                "labelExpr": "abs(log(datum.value)/LN10 - round(log(datum.value)/LN10)) < 0.000001 ? datum.label : ''",
                "tickSize": {"condition": {"test": "abs(log(datum.value)/LN10 - round(log(datum.value)/LN10)) < 0.000001", "value": -8}, "value": -4},
                "labelPadding": 8, "title": "Scattering Vector q/k₀", "titlePadding": 12, "titleX": 184}},
            "y": {"field": "I", "type": "quantitative", "scale": {"type": "log", "domain": [0.01, 5], "nice": false},
              "axis": {"orient": "left", "values": [0.01,0.02,0.03,0.04,0.05,0.06,0.07,0.08,0.09,0.1,0.2,0.3,0.4,0.5,0.6,0.7,0.8,0.9,1,2,3,4,5], "format": "~g",
                "labelExpr": "abs(log(datum.value)/LN10 - round(log(datum.value)/LN10)) < 0.000001 ? datum.label : ''",
                "tickSize": {"condition": {"test": "abs(log(datum.value)/LN10 - round(log(datum.value)/LN10)) < 0.000001", "value": -8}, "value": -4},
                "labelPadding": 13, "title": "Scattering Intensity Iₛ [arb. units]", "titlePadding": 1, "titleY": 162}},
            "color": {"field": "s", "type": "nominal", "scale": {"range": ["black", "blue", "red", "magenta"]},
              "legend": {"title": "KCl (w/v)", "legendX": 235, "legendY": 35, "zindex": 1,
                "labelExpr": "datum.label == '0%' ? '\u00a0\u00a00%' : datum.label"}},
            "shape": {"field": "s", "type": "nominal", "scale": {"domain": ["0%", "2.0%", "4.0%", "6.0%"], "range": ["circle", "circle", "circle", "circle"]},
              "legend": {"title": "KCl (w/v)", "legendX": 241, "legendY": 41, "zindex": 0, "fillColor": "black", "strokeColor": "black", "labelColor": "black", "titleColor": "black", "symbolFillColor": "black", "symbolStrokeColor": "black",
                "labelExpr": "datum.label == '0%' ? '\u00a0\u00a00%' : datum.label"}}
          }
        },
        {
          "data": {"name": "fit"},
          "transform": [{"filter": "datum.p == 'a'"}],
          "mark": {"type": "line", "strokeWidth": 1.5},
          "encoding": {
            "x": {"field": "q", "type": "quantitative", "scale": {"type": "log", "domain": [0.01, 0.3], "nice": false},
              "axis": {"orient": "top", "values": [0.01,0.02,0.03,0.04,0.05,0.06,0.07,0.08,0.09,0.1,0.2,0.3], "labels": false, "title": null,
                "tickSize": {"condition": {"test": "abs(log(datum.value)/LN10 - round(log(datum.value)/LN10)) < 0.000001", "value": -8}, "value": -4}}},
            "y": {"field": "I", "type": "quantitative", "scale": {"type": "log", "domain": [0.01, 5], "nice": false},
              "axis": {"orient": "right", "values": [0.01,0.02,0.03,0.04,0.05,0.06,0.07,0.08,0.09,0.1,0.2,0.3,0.4,0.5,0.6,0.7,0.8,0.9,1,2,3,4,5], "labels": false, "title": null,
                "tickSize": {"condition": {"test": "abs(log(datum.value)/LN10 - round(log(datum.value)/LN10)) < 0.000001", "value": -8}, "value": -4}}},
            "color": {"field": "s", "type": "nominal", "legend": null},
            "detail": {"field": "s"}
          }
        },
        {
          "data": {"values": [{}]},
          "mark": {"type": "text", "text": "HEWL: 30 mg/mL", "align": "right", "baseline": "middle", "fontSize": 16},
          "encoding": {"x": {"datum": 0.2627, "type": "quantitative", "axis": null}, "y": {"datum": 3.5, "type": "quantitative", "axis": null}}
        },
        {
          "data": {"values": [{}]},
          "mark": {"type": "text", "text": "α", "font": "Liberation Serif", "fontStyle": "italic", "align": "left", "baseline": "middle", "fontSize": 19},
          "encoding": {"x": {"datum": 0.01867, "type": "quantitative", "axis": null}, "y": {"datum": 2.54, "type": "quantitative", "axis": null}}
        },
        {
          "data": {"values": [{}]},
          "mark": {"type": "text", "text": "=1.65", "align": "left", "baseline": "middle", "fontSize": 17, "dx": 12},
          "encoding": {"x": {"datum": 0.01867, "type": "quantitative", "axis": null}, "y": {"datum": 2.54, "type": "quantitative", "axis": null}}
        },
        {
          "data": {"values": [{}]},
          "mark": {"type": "text", "text": "α", "font": "Liberation Serif", "fontStyle": "italic", "align": "left", "baseline": "middle", "fontSize": 19},
          "encoding": {"x": {"datum": 0.01327, "type": "quantitative", "axis": null}, "y": {"datum": 1.308, "type": "quantitative", "axis": null}}
        },
        {
          "data": {"values": [{}]},
          "mark": {"type": "text", "text": "=1.33", "align": "left", "baseline": "middle", "fontSize": 17, "dx": 12},
          "encoding": {"x": {"datum": 0.01327, "type": "quantitative", "axis": null}, "y": {"datum": 1.308, "type": "quantitative", "axis": null}}
        }
      ],
      "resolve": {"axis": {"x": "independent", "y": "independent"}}
    },
    {
      "width": 342, "height": 347,
      "title": {"text": "(b)", "anchor": "start", "frame": "group", "dx": -32, "offset": 6.6},
      "layer": [
        {
          "data": {"name": "pts"},
          "transform": [{"filter": "datum.p == 'b'"}],
          "mark": {"type": "point", "filled": true, "size": 32, "opacity": 1},
          "encoding": {
            "x": {"field": "q", "type": "quantitative", "scale": {"type": "log", "domain": [0.01, 0.3], "nice": false},
              "axis": {"orient": "bottom", "values": [0.01,0.02,0.03,0.04,0.05,0.06,0.07,0.08,0.09,0.1,0.2,0.3], "format": "~g",
                "labelExpr": "abs(log(datum.value)/LN10 - round(log(datum.value)/LN10)) < 0.000001 ? datum.label : ''",
                "tickSize": {"condition": {"test": "abs(log(datum.value)/LN10 - round(log(datum.value)/LN10)) < 0.000001", "value": -8}, "value": -4},
                "labelPadding": 8, "title": "Scattering Vector q/k₀", "titlePadding": 12, "titleX": 180}},
            "y": {"field": "I", "type": "quantitative", "scale": {"type": "log", "domain": [0.0203, 22.4], "nice": false},
              "axis": {"orient": "left", "values": [0.03,0.04,0.05,0.06,0.07,0.08,0.09,0.1,0.2,0.3,0.4,0.5,0.6,0.7,0.8,0.9,1,2,3,4,5,6,7,8,9,10,20], "format": "~g",
                "labelExpr": "abs(log(datum.value)/LN10 - round(log(datum.value)/LN10)) < 0.000001 ? datum.label : ''",
                "tickSize": {"condition": {"test": "abs(log(datum.value)/LN10 - round(log(datum.value)/LN10)) < 0.000001", "value": -8}, "value": -4},
                "labelPadding": 13, "title": "Scattering Intensity Iₛ [arb. units]", "titlePadding": 1, "titleY": 162}},
            "color": {"field": "s", "type": "nominal", "scale": {"range": ["black", "blue", "red", "magenta"]},
              "legend": {"title": "MgCl₂ (w/v)", "legendX": 213, "legendY": 47, "zindex": 1,
                "labelExpr": "datum.label == '0%' ? '\u00a0\u00a0\u00a00%' : datum.label"}},
            "shape": {"field": "s", "type": "nominal", "scale": {"domain": ["0%", "2.0%", "3.0%", "4.0%"], "range": ["circle", "circle", "circle", "circle"]},
              "legend": {"title": "MgCl₂ (w/v)", "legendX": 219, "legendY": 53, "zindex": 0, "fillColor": "black", "strokeColor": "black", "labelColor": "black", "titleColor": "black", "symbolFillColor": "black", "symbolStrokeColor": "black",
                "labelExpr": "datum.label == '0%' ? '\u00a0\u00a0\u00a00%' : datum.label"}}
          }
        },
        {
          "data": {"name": "fit"},
          "transform": [{"filter": "datum.p == 'b'"}],
          "mark": {"type": "line", "strokeWidth": 1.5},
          "encoding": {
            "x": {"field": "q", "type": "quantitative", "scale": {"type": "log", "domain": [0.01, 0.3], "nice": false},
              "axis": {"orient": "top", "values": [0.01,0.02,0.03,0.04,0.05,0.06,0.07,0.08,0.09,0.1,0.2,0.3], "labels": false, "title": null,
                "tickSize": {"condition": {"test": "abs(log(datum.value)/LN10 - round(log(datum.value)/LN10)) < 0.000001", "value": -8}, "value": -4}}},
            "y": {"field": "I", "type": "quantitative", "scale": {"type": "log", "domain": [0.0203, 22.4], "nice": false},
              "axis": {"orient": "right", "values": [0.03,0.04,0.05,0.06,0.07,0.08,0.09,0.1,0.2,0.3,0.4,0.5,0.6,0.7,0.8,0.9,1,2,3,4,5,6,7,8,9,10,20], "labels": false, "title": null,
                "tickSize": {"condition": {"test": "abs(log(datum.value)/LN10 - round(log(datum.value)/LN10)) < 0.000001", "value": -8}, "value": -4}}},
            "color": {"field": "s", "type": "nominal", "legend": null},
            "detail": {"field": "s"}
          }
        },
        {
          "data": {"values": [{}]},
          "mark": {"type": "text", "text": "HEWL: 30 mg/mL", "align": "right", "baseline": "middle", "fontSize": 16},
          "encoding": {"x": {"datum": 0.2637, "type": "quantitative", "axis": null}, "y": {"datum": 12.75, "type": "quantitative", "axis": null}}
        },
        {
          "data": {"values": [{}]},
          "mark": {"type": "text", "text": "α", "font": "Liberation Serif", "fontStyle": "italic", "align": "left", "baseline": "middle", "fontSize": 19},
          "encoding": {"x": {"datum": 0.01112, "type": "quantitative", "axis": null}, "y": {"datum": 7.53, "type": "quantitative", "axis": null}}
        },
        {
          "data": {"values": [{}]},
          "mark": {"type": "text", "text": "=1.50", "align": "left", "baseline": "middle", "fontSize": 17, "dx": 12},
          "encoding": {"x": {"datum": 0.01112, "type": "quantitative", "axis": null}, "y": {"datum": 7.53, "type": "quantitative", "axis": null}}
        },
        {
          "data": {"values": [{}]},
          "mark": {"type": "text", "text": "α", "font": "Liberation Serif", "fontStyle": "italic", "align": "left", "baseline": "middle", "fontSize": 19},
          "encoding": {"x": {"datum": 0.0109, "type": "quantitative", "axis": null}, "y": {"datum": 2.52, "type": "quantitative", "axis": null}}
        },
        {
          "data": {"values": [{}]},
          "mark": {"type": "text", "text": "=1.58", "align": "left", "baseline": "middle", "fontSize": 17, "dx": 12},
          "encoding": {"x": {"datum": 0.0109, "type": "quantitative", "axis": null}, "y": {"datum": 2.52, "type": "quantitative", "axis": null}}
        },
        {
          "data": {"values": [{}]},
          "mark": {"type": "text", "text": "α", "font": "Liberation Serif", "fontStyle": "italic", "align": "left", "baseline": "middle", "fontSize": 19},
          "encoding": {"x": {"datum": 0.01112, "type": "quantitative", "axis": null}, "y": {"datum": 0.637, "type": "quantitative", "axis": null}}
        },
        {
          "data": {"values": [{}]},
          "mark": {"type": "text", "text": "=1.01", "align": "left", "baseline": "middle", "fontSize": 17, "dx": 12},
          "encoding": {"x": {"datum": 0.01112, "type": "quantitative", "axis": null}, "y": {"datum": 0.637, "type": "quantitative", "axis": null}}
        }
      ],
      "resolve": {"axis": {"x": "independent", "y": "independent"}}
    },
    {
      "width": 340, "height": 343,
      "title": {"text": "(c)", "anchor": "start", "frame": "group", "dx": -33, "offset": 3.5},
      "layer": [
        {
          "data": {"name": "pts"},
          "transform": [{"filter": "datum.p == 'c'"}],
          "mark": {"type": "point", "filled": true, "size": 32, "opacity": 1},
          "encoding": {
            "x": {"field": "q", "type": "quantitative", "scale": {"type": "log", "domain": [0.01, 0.3], "nice": false},
              "axis": {"orient": "bottom", "values": [0.01,0.02,0.03,0.04,0.05,0.06,0.07,0.08,0.09,0.1,0.2,0.3], "format": "~g",
                "labelExpr": "abs(log(datum.value)/LN10 - round(log(datum.value)/LN10)) < 0.000001 ? datum.label : ''",
                "tickSize": {"condition": {"test": "abs(log(datum.value)/LN10 - round(log(datum.value)/LN10)) < 0.000001", "value": -8}, "value": -4},
                "labelPadding": 8, "title": "Scattering Vector q/k₀", "titlePadding": 12, "titleX": 179}},
            "y": {"field": "I", "type": "quantitative", "scale": {"type": "log", "domain": [0.01, 3.13], "nice": false},
              "axis": {"orient": "left", "values": [0.01,0.02,0.03,0.04,0.05,0.06,0.07,0.08,0.09,0.1,0.2,0.3,0.4,0.5,0.6,0.7,0.8,0.9,1,2,3], "format": "~g",
                "labelExpr": "abs(log(datum.value)/LN10 - round(log(datum.value)/LN10)) < 0.000001 ? datum.label : ''",
                "tickSize": {"condition": {"test": "abs(log(datum.value)/LN10 - round(log(datum.value)/LN10)) < 0.000001", "value": -8}, "value": -4},
                "labelPadding": 13, "title": "Scattering Intensity Iₛ [arb. units]", "titlePadding": 4, "titleY": 162}},
            "color": {"field": "s", "type": "nominal", "scale": {"range": ["black", "blue", "red", "magenta"]},
              "legend": {"title": "CaCl₂", "titleAnchor": "middle", "legendX": 235, "legendY": 48, "zindex": 1,
                "labelExpr": "datum.label == '0%' ? '\u00a0\u00a0\u00a00%' : datum.label"}},
            "shape": {"field": "s", "type": "nominal", "scale": {"domain": ["0%", "3.0%", "5.0%", "7.0%"], "range": ["circle", "circle", "circle", "circle"]},
              "legend": {"title": "CaCl₂", "titleAnchor": "middle", "legendX": 241, "legendY": 54, "zindex": 0, "fillColor": "black", "strokeColor": "black", "labelColor": "black", "titleColor": "black", "symbolFillColor": "black", "symbolStrokeColor": "black",
                "labelExpr": "datum.label == '0%' ? '\u00a0\u00a0\u00a00%' : datum.label"}}
          }
        },
        {
          "data": {"name": "fit"},
          "transform": [{"filter": "datum.p == 'c'"}],
          "mark": {"type": "line", "strokeWidth": 1.5},
          "encoding": {
            "x": {"field": "q", "type": "quantitative", "scale": {"type": "log", "domain": [0.01, 0.3], "nice": false},
              "axis": {"orient": "top", "values": [0.01,0.02,0.03,0.04,0.05,0.06,0.07,0.08,0.09,0.1,0.2,0.3], "labels": false, "title": null,
                "tickSize": {"condition": {"test": "abs(log(datum.value)/LN10 - round(log(datum.value)/LN10)) < 0.000001", "value": -8}, "value": -4}}},
            "y": {"field": "I", "type": "quantitative", "scale": {"type": "log", "domain": [0.01, 3.13], "nice": false},
              "axis": {"orient": "right", "values": [0.01,0.02,0.03,0.04,0.05,0.06,0.07,0.08,0.09,0.1,0.2,0.3,0.4,0.5,0.6,0.7,0.8,0.9,1,2,3], "labels": false, "title": null,
                "tickSize": {"condition": {"test": "abs(log(datum.value)/LN10 - round(log(datum.value)/LN10)) < 0.000001", "value": -8}, "value": -4}}},
            "color": {"field": "s", "type": "nominal", "legend": null},
            "detail": {"field": "s"}
          }
        },
        {
          "data": {"values": [{}]},
          "mark": {"type": "text", "text": "HEWL: 20 mg/mL", "align": "right", "baseline": "middle", "fontSize": 16},
          "encoding": {"x": {"datum": 0.2745, "type": "quantitative", "axis": null}, "y": {"datum": 1.923, "type": "quantitative", "axis": null}}
        },
        {
          "data": {"values": [{}]},
          "mark": {"type": "text", "text": "α", "font": "Liberation Serif", "fontStyle": "italic", "align": "left", "baseline": "middle", "fontSize": 19},
          "encoding": {"x": {"datum": 0.01119, "type": "quantitative", "axis": null}, "y": {"datum": 1.07, "type": "quantitative", "axis": null}}
        },
        {
          "data": {"values": [{}]},
          "mark": {"type": "text", "text": "=1.11", "align": "left", "baseline": "middle", "fontSize": 17, "dx": 17},
          "encoding": {"x": {"datum": 0.01119, "type": "quantitative", "axis": null}, "y": {"datum": 1.07, "type": "quantitative", "axis": null}}
        },
        {
          "data": {"values": [{}]},
          "mark": {"type": "text", "text": "α", "font": "Liberation Serif", "fontStyle": "italic", "align": "left", "baseline": "middle", "fontSize": 19},
          "encoding": {"x": {"datum": 0.01086, "type": "quantitative", "axis": null}, "y": {"datum": 0.325, "type": "quantitative", "axis": null}}
        },
        {
          "data": {"values": [{}]},
          "mark": {"type": "text", "text": "=1.13", "align": "left", "baseline": "middle", "fontSize": 17, "dx": 17},
          "encoding": {"x": {"datum": 0.01086, "type": "quantitative", "axis": null}, "y": {"datum": 0.325, "type": "quantitative", "axis": null}}
        }
      ],
      "resolve": {"axis": {"x": "independent", "y": "independent"}}
    }
  ],
  "resolve": {"scale": {"x": "independent", "y": "independent", "color": "independent", "shape": "independent"}, "legend": {"color": "independent", "shape": "independent"}},
  "config": {
    "font": "Liberation Sans",
    "view": {"stroke": "black", "strokeWidth": 1.5},
    "axis": {"grid": false, "domain": false, "tickColor": "black", "tickWidth": 1.2, "labelFont": "Liberation Sans", "labelFontSize": 18, "labelColor": "black", "titleFont": "Liberation Sans", "titleFontSize": 20, "titleFontWeight": "normal", "titleColor": "black", "labelFlush": false, "labelOverlap": false, "labelBound": false},
    "legend": {"orient": "none", "fillColor": "white", "strokeColor": "black", "padding": 6, "titleFont": "Liberation Sans", "titleFontSize": 16, "titleFontWeight": "normal", "titleColor": "black", "titleAnchor": "end", "titlePadding": 3, "labelFont": "Liberation Sans", "labelFontSize": 16, "labelColor": "black", "symbolType": "circle", "symbolSize": 40, "symbolStrokeWidth": 0, "symbolOffset": 12, "labelOffset": 13, "rowPadding": 3},
    "title": {"font": "Liberation Serif", "fontSize": 26, "fontWeight": "bold", "color": "black"},
    "text": {"font": "Liberation Sans", "color": "black"}
  }
}
